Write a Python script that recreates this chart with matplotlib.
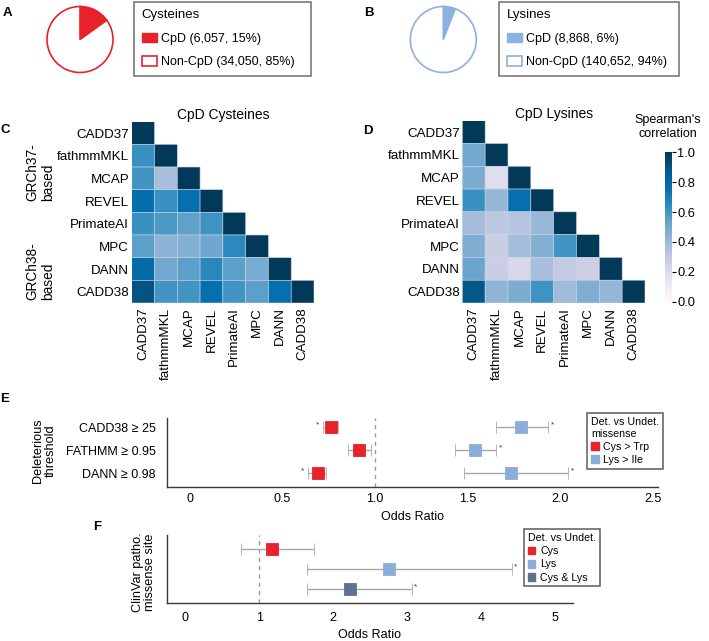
import matplotlib
matplotlib.use("Agg")
import matplotlib.pyplot as plt
import numpy as np
from matplotlib.patches import Patch

plt.rcParams['font.family'] = ['Liberation Sans', 'DejaVu Sans']

# ---------------- data ----------------
cys_counts = [6057, 34050]
cys_labels = ["CpD (6,057, 15%)", "Non-CpD (34,050, 85%)"]
lys_counts = [8868, 140652]
lys_labels = ["CpD (8,868, 6%)", "Non-CpD (140,652, 94%)"]

tools = ["CADD37", "fathmmMKL", "MCAP", "REVEL", "PrimateAI", "MPC", "DANN", "CADD38"]

cys_corr_rows = [
    [1.0],
    [0.62, 1.0],
    [0.60, 0.37, 1.0],
    [0.76, 0.62, 0.75, 1.0],
    [0.62, 0.58, 0.54, 0.61, 1.0],
    [0.55, 0.44, 0.46, 0.51, 0.65, 1.0],
    [0.78, 0.50, 0.55, 0.66, 0.55, 0.49, 1.0],
    [0.90, 0.60, 0.60, 0.75, 0.60, 0.55, 0.75, 1.0],
]
lys_corr_rows = [
    [1.0],
    [0.50, 1.0],
    [0.48, 0.18, 1.0],
    [0.62, 0.42, 0.75, 1.0],
    [0.38, 0.31, 0.33, 0.41, 1.0],
    [0.47, 0.27, 0.38, 0.46, 0.60, 1.0],
    [0.52, 0.27, 0.21, 0.37, 0.29, 0.26, 1.0],
    [0.88, 0.43, 0.48, 0.61, 0.39, 0.47, 0.42, 1.0],
]
cbar_ticks = [0.0, 0.2, 0.4, 0.6, 0.8, 1.0]

e_rows = ["CADD38 \u2265 25", "FATHMM \u2265 0.95", "DANN \u2265 0.98"]
e_cys_or = [0.76, 0.915, 0.69]
e_cys_lo = [0.72, 0.856, 0.64]
e_cys_hi = [0.80, 0.978, 0.733]
e_cys_sig = [True, False, True]
e_lys_or = [1.79, 1.54, 1.735]
e_lys_lo = [1.652, 1.43, 1.483]
e_lys_hi = [1.937, 1.654, 2.045]
e_lys_sig = [True, True, True]
e_xticks = [0, 0.5, 1.0, 1.5, 2.0, 2.5]
e_xticklabels = ["0", "0.5", "1.0", "1.5", "2.0", "2.5"]

f_groups = ["Cys", "Lys", "Cys & Lys"]
f_or = [1.17, 2.75, 2.23]
f_lo = [0.756, 1.642, 1.642]
f_hi = [1.745, 4.41, 3.06]
f_sig = [False, True, True]
f_xticks = [0, 1, 2, 3, 4, 5]

RED = "#e8222b"
LBLUE = "#8cadda"
SLATE = "#5f7190"
PIE_BLUE = "#8db0e0"
ECOL = "#a8a8a8"
SPINE = "#3a3a3a"

# ---------------- figure ----------------
W, H = 709, 641
fig = plt.figure(figsize=(W / 100, H / 100), dpi=100)


def fbox(x0, y0, x1, y1):
    return [x0 / W, 1 - y1 / H, (x1 - x0) / W, (y1 - y0) / H]


def panel(x, y, s):
    fig.text(x / W, 1 - y / H, s, fontsize=9.5, fontweight='bold', ha='center', va='center')


# ---------------- pies ----------------
def pie_panel(cx, cy, r, counts, labels, col, title, lx0, lx1, ly0, ly1, bpad):
    ax = fig.add_axes(fbox(cx - 1.2 * r, cy - 1.2 * r, cx + 1.2 * r, cy + 1.2 * r))
    ax.pie(counts, colors=[col, "white"], startangle=90, counterclock=False, radius=1,
           wedgeprops=dict(edgecolor=col, linewidth=1.2))
    ax.set_xlim(-1.2, 1.2)
    ax.set_ylim(-1.2, 1.2)
    ax.set_aspect('equal')
    ax.axis('off')
    handles = [Patch(facecolor=col, edgecolor=col, linewidth=1.0),
               Patch(facecolor="white", edgecolor=col, linewidth=1.2)]
    leg = fig.legend(handles=handles, labels=labels, title=title, loc='upper left',
                     bbox_to_anchor=(lx0 / W, 1 - ly1 / H, (lx1 - lx0) / W, (ly1 - ly0) / H),
                     mode='expand', borderaxespad=0, frameon=True, fancybox=False,
                     fontsize=9, title_fontsize=9.5, alignment='left',
                     handlelength=1.2, handleheight=0.8, handletextpad=0.35,
                     labelspacing=0.92, borderpad=bpad)
    fr = leg.get_frame()
    fr.set_edgecolor("#4a4a4a")
    fr.set_linewidth(1.1)


pie_panel(80, 39.5, 33, cys_counts, cys_labels, RED, "Cysteines", 134.3, 311, 1.7, 76.7, 0.6)
pie_panel(443.3, 39.5, 33, lys_counts, lys_labels, PIE_BLUE, "Lysines", 499, 679, 1.7, 77, 0.6)
panel(7.2, 12.5, "A")
panel(368.8, 13, "B")


# ---------------- heatmaps ----------------
def tri_matrix(rows):
    n = len(rows)
    M = np.full((n, n), np.nan)
    for i, r in enumerate(rows):
        M[i, :len(r)] = r
    return np.ma.masked_invalid(M)


def heat(box, rows, title):
    ax = fig.add_axes(fbox(*box))
    M = tri_matrix(rows)
    n = len(tools)
    mesh = ax.pcolor(M, cmap='PuBu', vmin=0, vmax=1, edgecolors='#c4d4e4', linewidth=0.4)
    ax.set_xlim(0, n)
    ax.set_ylim(n, 0)
    ax.set_xticks(np.arange(n) + 0.5)
    ax.set_xticklabels(tools, rotation=90, fontsize=9.6)
    ax.set_yticks(np.arange(n) + 0.5)
    ax.set_yticklabels(tools, fontsize=9.6)
    ax.tick_params(length=0, pad=1.8)
    ax.tick_params(axis='x', pad=3.2)
    for s in ax.spines.values():
        s.set_visible(False)
    ax.set_title(title, fontsize=10, pad=1.7)
    return mesh


heat((131.7, 121.7, 314, 303), cys_corr_rows, "CpD Cysteines")
mesh = heat((462.3, 120.7, 645, 303), lys_corr_rows, "CpD Lysines")

cax = fig.add_axes(fbox(665, 152.3, 671.7, 301.7))
cb = fig.colorbar(mesh, cax=cax, ticks=cbar_ticks)
cb.outline.set_visible(False)
cax.set_yticklabels([f"{t:.1f}" for t in cbar_ticks])
cax.tick_params(length=3, width=0.8, labelsize=9.3, pad=1)
fig.text(668 / W, 1 - 127 / H, "Spearman's\ncorrelation", ha='center', va='center',
         fontsize=9, linespacing=1.15)

fig.text(40.5 / W, 1 - 172 / H, "GRCh37-\nbased", rotation=90, ha='center', va='center',
         fontsize=9.8, multialignment='left', linespacing=1.15)
fig.text(40.5 / W, 1 - 271 / H, "GRCh38-\nbased", rotation=90, ha='center', va='center',
         fontsize=9.8, multialignment='left', linespacing=1.15)
panel(5, 130, "C")
panel(368.3, 130.5, "D")


# ---------------- forest plots ----------------
def style_forest(ax):
    for s in ("top", "right"):
        ax.spines[s].set_visible(False)
    for s in ("left", "bottom"):
        ax.spines[s].set_color(SPINE)
        ax.spines[s].set_linewidth(1.0)


def forest(ax, vals, lo, hi, ypos, col, sig, sig_side):
    vals = np.asarray(vals)
    err = [vals - np.asarray(lo), np.asarray(hi) - vals]
    ax.errorbar(vals, ypos, xerr=err, fmt='s', ms=8.8, mfc=col, mec=col, mew=0.6,
                ecolor=ECOL, elinewidth=1.0, capsize=4.6, capthick=1.0, zorder=3)
    for v_lo, v_hi, yy, s in zip(lo, hi, ypos, sig):
        if s:
            if sig_side == 'left':
                ax.annotate('*', xy=(v_lo, yy), xytext=(-4.0, 1.5), textcoords='offset points',
                            ha='center', va='center', fontsize=6, color='#333333')
            else:
                ax.annotate('*', xy=(v_hi, yy), xytext=(3.0, 1.5), textcoords='offset points',
                            ha='center', va='center', fontsize=6, color='#333333')


# E
axE = fig.add_axes(fbox(167, 418, 658, 487))
yE = np.arange(len(e_rows))[::-1]
axE.axvline(1.0, color='#9a9a9a', lw=1.0, ls=(0, (3, 3)), zorder=1)
forest(axE, e_cys_or, e_cys_lo, e_cys_hi, yE, RED, e_cys_sig, 'left')
forest(axE, e_lys_or, e_lys_lo, e_lys_hi, yE, LBLUE, e_lys_sig, 'right')
axE.set_xlim(-0.125, 2.53)
axE.set_ylim(-0.6, 2.4)
axE.set_yticks(yE)
axE.set_yticklabels(e_rows, fontsize=9)
axE.set_xticks(e_xticks)
axE.set_xticklabels(e_xticklabels, fontsize=9)
axE.tick_params(axis='y', length=0, pad=8)
axE.tick_params(axis='x', length=0, pad=4.5)
axE.set_xlabel("Odds Ratio", fontsize=9, labelpad=4)
style_forest(axE)
legE = axE.legend(handles=[Patch(facecolor=RED, edgecolor=RED), Patch(facecolor=LBLUE, edgecolor=LBLUE)],
                  labels=["Cys > Trp", "Lys > Ile"], title="Det. vs Undet.\nmissense",
                  loc='upper right', bbox_to_anchor=(663.3 / W, 1 - 412.7 / H),
                  bbox_transform=fig.transFigure, borderaxespad=0, frameon=True, fancybox=False,
                  fontsize=7.7, title_fontsize=7.7, alignment='left', handlelength=0.72,
                  handleheight=0.75, handletextpad=0.45, labelspacing=0.3, borderpad=0.4)
legE.get_frame().set_edgecolor("#333333")
legE.get_frame().set_linewidth(1.1)
fig.text(44.5 / W, 1 - 451 / H, "Deleterious\nthreshold", rotation=90, ha='center', va='center',
         fontsize=9.2, linespacing=1.1)
panel(5, 398.5, "E")

# F
axF = fig.add_axes(fbox(166.7, 535, 573, 602.7))
yF = np.arange(len(f_groups))[::-1]
axF.axvline(1.0, color='#9a9a9a', lw=1.0, ls=(0, (3, 3)), zorder=1)
f_cols = [RED, LBLUE, SLATE]
for i in range(len(f_groups)):
    forest(axF, [f_or[i]], [f_lo[i]], [f_hi[i]], [yF[i]], f_cols[i], [f_sig[i]], 'right')
axF.set_xlim(-0.25, 5.24)
axF.set_ylim(-0.69, 2.7)
axF.set_yticks([])
axF.set_xticks(f_xticks)
axF.set_xticklabels([str(t) for t in f_xticks], fontsize=9)
axF.tick_params(axis='x', length=0, pad=6.5)
axF.set_xlabel("Odds Ratio", fontsize=9, labelpad=4)
style_forest(axF)
legF = axF.legend(handles=[Patch(facecolor=c, edgecolor=c) for c in f_cols], labels=f_groups,
                  title="Det. vs Undet.", loc='upper left', bbox_to_anchor=(524 / W, 1 - 529.3 / H),
                  bbox_transform=fig.transFigure, borderaxespad=0, frameon=True, fancybox=False,
                  fontsize=7.7, title_fontsize=7.7, alignment='left', handlelength=0.72,
                  handleheight=0.75, handletextpad=0.45, labelspacing=0.3, borderpad=0.35)
legF.get_frame().set_edgecolor("#333333")
legF.get_frame().set_linewidth(1.1)
fig.text(144 / W, 1 - 572 / H, "ClinVar patho.\nmissense site", rotation=90, ha='center', va='center',
         fontsize=9.2, linespacing=1.1)
panel(97.5, 527.5, "F")

fig.savefig("out.png", dpi=100)
